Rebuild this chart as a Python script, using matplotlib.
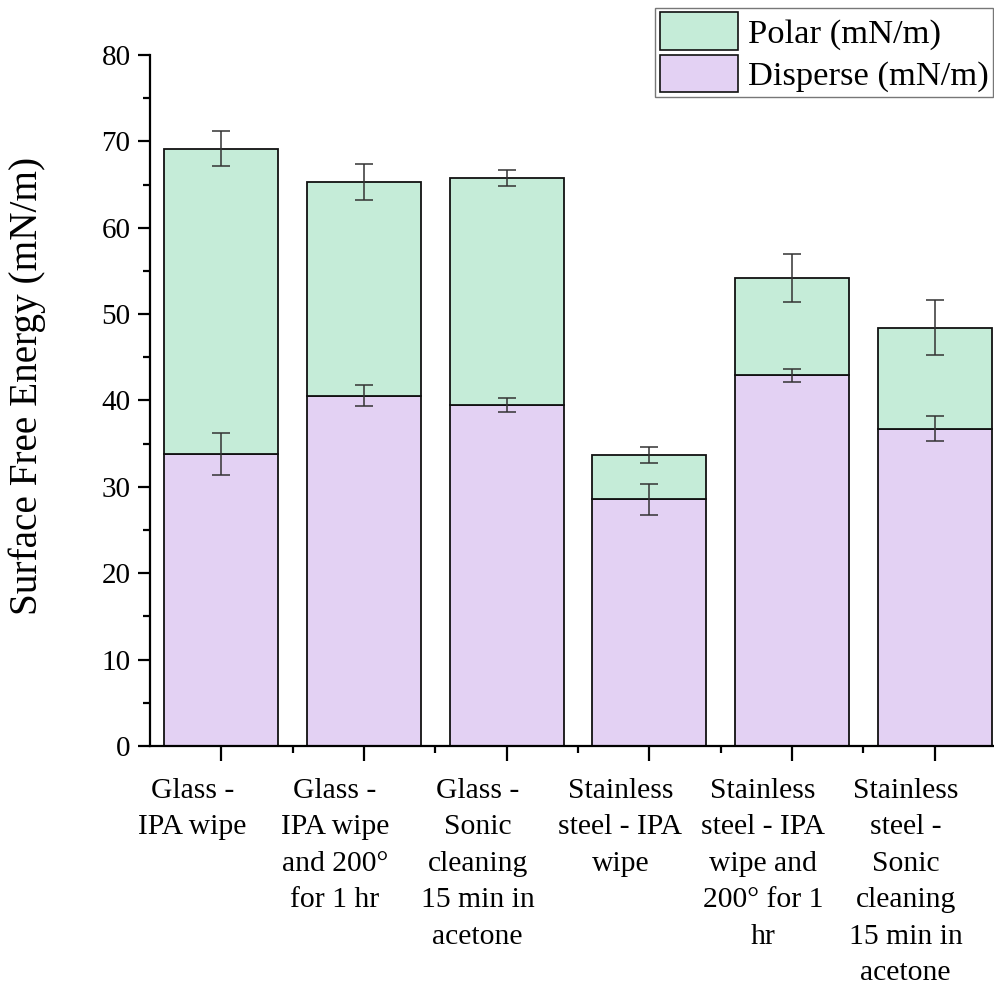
import matplotlib
matplotlib.use("Agg")
import matplotlib.pyplot as plt
import matplotlib.transforms as mtransforms
from matplotlib.ticker import MultipleLocator, FixedLocator
from matplotlib.patches import Patch
import numpy as np

categories = [
    "Glass -\nIPA wipe",
    "Glass -\nIPA wipe\nand 200°\nfor 1 hr",
    "Glass -\nSonic\ncleaning\n15 min in\nacetone",
    "Stainless\nsteel - IPA\nwipe",
    "Stainless\nsteel - IPA\nwipe and\n200° for 1\nhr",
    "Stainless\nsteel -\nSonic\ncleaning\n15 min in\nacetone",
]
disperse = [33.8, 40.55, 39.5, 28.55, 42.9, 36.75]
disperse_err = [2.45, 1.2, 0.8, 1.75, 0.75, 1.45]
polar = [35.35, 24.75, 26.25, 5.15, 11.25, 11.7]
polar_err = [2.0, 2.1, 0.93, 0.93, 2.8, 3.15]

plt.rcParams["font.family"] = ["Liberation Serif", "DejaVu Serif"]

fig = plt.figure(figsize=(9.94, 9.85), dpi=100)
ax = fig.add_axes([150 / 994, 239 / 985, 856 / 994, 691 / 985])

x = np.arange(len(categories))
disp_color = "#e3d1f3"
polar_color = "#c5ecd8"
edge = "#111111"

ax.bar(x, disperse, width=0.8, color=disp_color, edgecolor=edge, linewidth=1.3, zorder=2)
ax.bar(x, polar, width=0.8, bottom=disperse, color=polar_color, edgecolor=edge,
       linewidth=1.3, zorder=2)

totals = np.array(disperse) + np.array(polar)
err_kw = dict(fmt="none", ecolor="#333333", elinewidth=1.1, capsize=6.5, capthick=1.1, zorder=3)
ax.errorbar(x, disperse, yerr=disperse_err, **err_kw)
ax.errorbar(x, totals, yerr=polar_err, **err_kw)

ax.set_xlim(-0.5, 5.5)
ax.set_ylim(0, 80)
ax.yaxis.set_major_locator(MultipleLocator(10))
ax.yaxis.set_minor_locator(MultipleLocator(5))
ax.set_xticks(x)
ax.set_xticklabels(categories, fontsize=21.3, linespacing=1.52, va="top")
ax.xaxis.set_minor_locator(FixedLocator(x[:-1] + 0.5))
ax.tick_params(axis="y", labelsize=21)
ax.tick_params(axis="both", which="major", direction="out", width=1.6, colors="black")
ax.tick_params(axis="x", which="major", length=11, pad=12)
ax.tick_params(axis="y", which="major", length=9, pad=5)
ax.tick_params(axis="both", which="minor", direction="out", width=1.6, length=5)

# category labels sit slightly left of their bars
shift = mtransforms.ScaledTranslation(-29 / 100, 0, fig.dpi_scale_trans)
for lbl in ax.get_xticklabels():
    lbl.set_transform(lbl.get_transform() + shift)

for side in ["top", "right"]:
    ax.spines[side].set_visible(False)
for side in ["left", "bottom"]:
    ax.spines[side].set_linewidth(1.6)

ax.set_ylabel("Surface Free Energy (mN/m)", fontsize=28.3)
ax.yaxis.set_label_coords(-104 / 856, 0.521)

handles = [
    Patch(facecolor=polar_color, edgecolor=edge, linewidth=1.2, label="Polar (mN/m)"),
    Patch(facecolor=disp_color, edgecolor=edge, linewidth=1.2, label="Disperse (mN/m)"),
]
leg = fig.legend(handles=handles, loc="upper right", bbox_to_anchor=(993 / 994, 1 - 8 / 985),
                 fontsize=24.8, frameon=True, fancybox=False, edgecolor="#555555",
                 handlelength=2.27, handleheight=1.3, handletextpad=0.3,
                 labelspacing=0.15, borderpad=0.12, borderaxespad=0)
leg.get_frame().set_linewidth(1.0)

fig.savefig("out.png", dpi=100)
